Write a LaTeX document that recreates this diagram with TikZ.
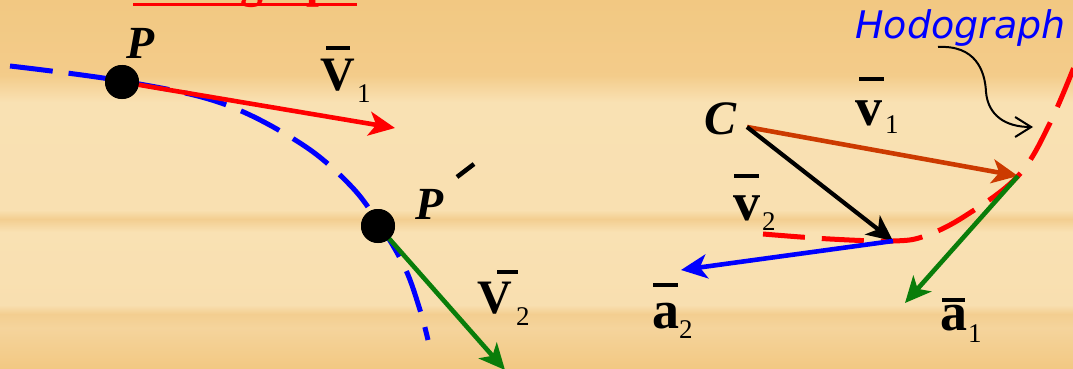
\documentclass[tikz,border=0pt]{standalone}
\usepackage{fontspec}
\setmainfont{Liberation Serif}
\newfontfamily\hodofont{DejaVu Sans}
\usetikzlibrary{arrows.meta}
\definecolor{wdark}{HTML}{F2C882}
\definecolor{wmid}{HTML}{F5D49C}
\definecolor{wlight}{HTML}{F9E1B3}
\definecolor{wstreak}{HTML}{F3CE90}
\definecolor{vbrown}{HTML}{CC3A00}
\definecolor{vgreen}{HTML}{0A7D0A}
\begin{document}
\begin{tikzpicture}[x=1pt,y=-1pt,
  vec/.style={line width=4.6pt,-{Stealth[length=26pt,width=24pt,inset=7pt]}},
  barline/.style={line width=4pt},
  dotnode/.style={circle,fill=black,minimum size=34pt,inner sep=0pt},
  ptlab/.style={inner sep=0pt,anchor=base,font=\fontsize{46}{46}\selectfont\bfseries\itshape},
  Vlab/.style={inner sep=0pt,anchor=base,font=\fontsize{48}{48}\selectfont\bfseries},
  vlab/.style={inner sep=0pt,anchor=base,font=\fontsize{54}{54}\selectfont\bfseries},
  sublab/.style={inner sep=0pt,anchor=base west,font=\fontsize{27}{27}\selectfont},
  pathdash/.style={line width=5pt,dash pattern=on 43pt off 16pt}
]
\useasboundingbox (0,0) rectangle (1073,369);
% wood background
\shade[top color=wdark,bottom color=wdark!70!wmid] (0,0) rectangle (1073,75);
\shade[top color=wdark!70!wmid,bottom color=wlight] (0,75) rectangle (1073,102);
\shade[top color=wlight,bottom color=wlight!90!wmid] (0,102) rectangle (1073,210);
\shade[top color=wlight!90!wmid,bottom color=wstreak] (0,210) rectangle (1073,219);
\shade[top color=wstreak,bottom color=wlight] (0,219) rectangle (1073,232);
\shade[top color=wlight,bottom color=wlight!85!wmid] (0,232) rectangle (1073,305);
\shade[top color=wlight!85!wmid,bottom color=wstreak] (0,305) rectangle (1073,314);
\shade[top color=wstreak,bottom color=wmid] (0,314) rectangle (1073,328);
\shade[top color=wmid,bottom color=wdark] (0,328) rectangle (1073,369);

% cut-off red title at the top
\begin{scope}
\clip (0,0) rectangle (1073,369);
\node[inner sep=0pt,anchor=base west,text=red,font=\fontsize{46}{46}\selectfont\bfseries] (title) at (133,-2) {Hodograph};
\draw[red,line width=3pt] (133,4.5) -- (357,4.5);
\end{scope}

% ---------- left: path with two positions ----------
\draw[blue,pathdash] plot[smooth,tension=0.6] coordinates
  {(10,66) (122,81) (221,103) (300,143) (350,185) (380,225) (405,268) (420,310) (428,340)};

\node[dotnode] (P) at (122,82) {};
\node[dotnode] (P2) at (378,226) {};
\coordinate (v1tip) at (395,128);
\coordinate (v2tip) at (505,370);
\draw[vec,red] (P.center) -- (v1tip);
\draw[vec,vgreen] (P2.center) -- (v2tip);
\node[dotnode] at (P) {};
\node[dotnode] at (P2) {};

\node[ptlab] (Plab) at (141,59) {P};
\node[ptlab] (P2lab) at (430,219) {P};
\draw[line width=4.5pt] (457,177) -- (474,164);

\node[Vlab] (V1) at (338,90) {V};
\draw[barline] (326,48) -- (350,48);
\node[sublab] (V1s) at (357,102) {1};
\node[Vlab] (V2) at (495,313) {V};
\draw[barline] (497,272) -- (518,272);
\node[sublab] (V2s) at (516,325) {2};

% ---------- right: hodograph ----------
\coordinate (C0) at (747,127);
\coordinate (H1) at (1018,176);
\coordinate (H2) at (893,241);
\draw[red,line width=5pt,dash pattern=on 42pt off 17pt] plot[smooth,tension=0.6] coordinates
  {(763,234) (830,239) (893,241) (925,236) (965,216) (1018,176) (1050,123) (1080,52)};

\draw[vec,vbrown] (C0) -- (H1);
\draw[vec,black,line width=4.2pt] (C0) -- (H2);
\coordinate (a2tip) at (681,270);
\coordinate (a1tip) at (905,303);
\draw[vec,blue] (H2) -- (a2tip);
\draw[vec,vgreen] (H1) -- (a1tip);

\node[ptlab,font=\fontsize{48}{48}\selectfont\bfseries\itshape] (Clab) at (720,134) {C};

\node[vlab] (v1) at (869,125) {v};
\draw[barline] (859,79) -- (884,79);
\node[sublab] (v1s) at (885,133) {1};
\node[vlab] (v2) at (747,220) {v};
\draw[barline] (734,176) -- (759,176);
\node[sublab] (v2s) at (762,230) {2};

\node[vlab] (a2) at (666,328) {a};
\draw[barline] (653,285) -- (678,285);
\node[sublab] (a2s) at (679,338) {2};
\node[vlab] (a1) at (954,330) {a};
\draw[barline] (942,300) -- (965,300);
\node[sublab] (a1s) at (968,342) {1};

\node[inner sep=0pt,anchor=base west,text=blue,font=\fontsize{38}{38}\selectfont\hodofont\itshape] (hodo) at (855,39) {Hodograph};
\coordinate (hodoend) at (1033,127);
\draw[line width=2pt,-{Straight Barb[length=16pt,width=20pt]}] (938,47) .. controls (975,45) and (985,70) .. (986,92) .. controls (988,115) and (1005,127) .. (hodoend);
\end{tikzpicture}
\end{document}
